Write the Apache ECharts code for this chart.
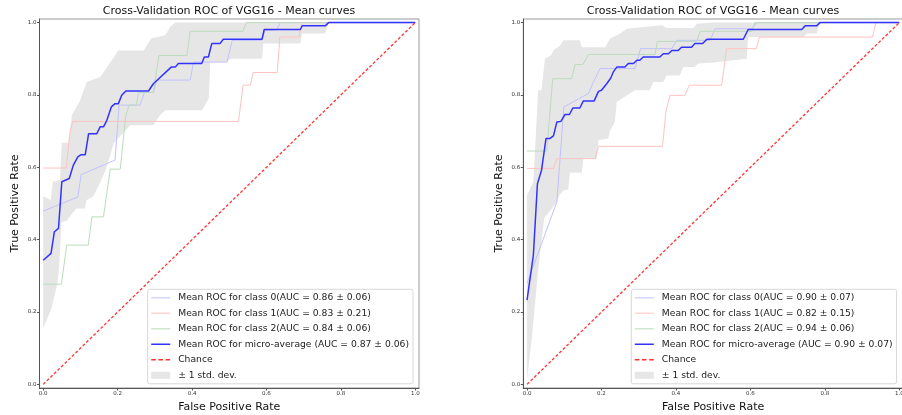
<!DOCTYPE html>
<html>
<head>
<meta charset="utf-8">
<script src="https://cdn.jsdelivr.net/npm/echarts@6/dist/echarts.min.js"></script>
<style>
  html, body { margin: 0; padding: 0; background: #fff; }
  #chart { width: 902px; height: 415px; }
</style>
</head>
<body>
<div id="chart"></div>
<script>
// ticks and labels
const ticks = [0, 0.2, 0.4, 0.6, 0.8, 1.0];
const titleText = 'Cross-Validation ROC of VGG16 - Mean curves';
const xName = 'False Positive Rate';
const yName = 'True Positive Rate';
const chanceName = 'Chance';
const bandName = '\u00b1 1 std. dev.';
const namesLeft = [
  'Mean ROC for class 0(AUC = 0.86 \u00b1 0.06)',
  'Mean ROC for class 1(AUC = 0.83 \u00b1 0.21)',
  'Mean ROC for class 2(AUC = 0.84 \u00b1 0.06)',
  'Mean ROC for micro-average (AUC = 0.87 \u00b1 0.06)'
];
const namesRight = [
  'Mean ROC for class 0(AUC = 0.90 \u00b1 0.07)',
  'Mean ROC for class 1(AUC = 0.82 \u00b1 0.15)',
  'Mean ROC for class 2(AUC = 0.94 \u00b1 0.06)',
  'Mean ROC for micro-average (AUC = 0.90 \u00b1 0.07)'
];
const chance = [[0, 0], [1, 1]];

// left chart, [fpr, tpr]
const leftClass0 = [[0,0.479],[0.093,0.518],[0.102,0.58],[0.193,0.62],[0.204,0.772],[0.26,0.772],[0.272,0.807],[0.296,0.807],[0.305,0.841],[0.395,0.841],[0.404,0.891],[0.494,0.891],[0.508,0.951],[0.588,0.951],[0.596,0.978],[0.628,0.98],[0.637,1],[1,1]];
const leftClass1 = [[0,0.598],[0.062,0.598],[0.071,0.69],[0.079,0.727],[0.525,0.727],[0.537,0.827],[0.557,0.827],[0.564,0.862],[0.629,0.862],[0.636,0.96],[0.687,0.96],[0.696,1],[1,1]];
const leftClass2 = [[0,0.277],[0.049,0.277],[0.063,0.385],[0.121,0.385],[0.131,0.463],[0.162,0.463],[0.18,0.595],[0.207,0.595],[0.222,0.744],[0.231,0.772],[0.25,0.772],[0.256,0.807],[0.296,0.807],[0.311,0.909],[0.386,0.909],[0.395,0.976],[0.537,0.976],[0.546,1],[1,1]];
const leftMicro = [[0,0.343],[0.021,0.362],[0.03,0.422],[0.041,0.431],[0.05,0.56],[0.07,0.569],[0.081,0.606],[0.093,0.629],[0.102,0.635],[0.113,0.635],[0.122,0.693],[0.144,0.693],[0.153,0.712],[0.162,0.712],[0.171,0.73],[0.183,0.767],[0.193,0.776],[0.202,0.776],[0.211,0.799],[0.222,0.811],[0.283,0.811],[0.296,0.831],[0.344,0.877],[0.355,0.877],[0.363,0.887],[0.426,0.887],[0.433,0.905],[0.444,0.905],[0.453,0.942],[0.475,0.942],[0.484,0.954],[0.588,0.954],[0.594,0.981],[0.691,0.981],[0.696,0.991],[0.758,0.991],[0.767,1],[1,1]];
const leftUpper = [[0,0.52],[0.02,0.51],[0.026,0.56],[0.045,0.565],[0.05,0.668],[0.068,0.668],[0.077,0.744],[0.099,0.785],[0.117,0.836],[0.153,0.85],[0.175,0.882],[0.202,0.923],[0.27,0.923],[0.29,0.956],[0.328,0.965],[0.341,0.988],[0.355,1],[0.767,1]];
const leftLower = [[0,0.155],[0.022,0.21],[0.038,0.279],[0.043,0.325],[0.049,0.449],[0.063,0.452],[0.076,0.47],[0.089,0.486],[0.112,0.486],[0.116,0.509],[0.135,0.52],[0.149,0.55],[0.166,0.587],[0.18,0.633],[0.189,0.666],[0.21,0.69],[0.234,0.716],[0.296,0.716],[0.314,0.744],[0.328,0.758],[0.426,0.758],[0.435,0.772],[0.445,0.79],[0.449,0.891],[0.494,0.891],[0.503,0.9],[0.588,0.9],[0.592,0.942],[0.691,0.942],[0.696,0.97],[0.758,0.97],[0.767,1]];

// right chart
const rightClass0 = [[0,0.279],[0.08,0.504],[0.087,0.6],[0.099,0.767],[0.165,0.804],[0.176,0.831],[0.196,0.873],[0.29,0.873],[0.305,0.928],[0.389,0.928],[0.402,0.951],[0.492,0.951],[0.505,0.983],[0.604,0.983],[0.617,1],[1,1]];
const rightClass1 = [[0,0.597],[0.071,0.597],[0.08,0.624],[0.183,0.624],[0.192,0.658],[0.364,0.658],[0.373,0.753],[0.384,0.799],[0.424,0.799],[0.436,0.827],[0.523,0.827],[0.536,0.928],[0.616,0.928],[0.624,0.96],[0.928,0.96],[0.937,1],[1,1]];
const rightClass2 = [[0,0.645],[0.053,0.645],[0.069,0.845],[0.12,0.845],[0.129,0.884],[0.15,0.884],[0.165,0.912],[0.344,0.912],[0.35,0.948],[0.456,0.948],[0.465,0.976],[0.604,0.976],[0.612,1],[1,1]];
const rightMicro = [[0,0.233],[0.017,0.357],[0.028,0.555],[0.039,0.592],[0.051,0.68],[0.062,0.68],[0.071,0.687],[0.08,0.725],[0.091,0.727],[0.102,0.746],[0.114,0.746],[0.123,0.764],[0.142,0.764],[0.151,0.783],[0.18,0.783],[0.192,0.81],[0.2,0.813],[0.214,0.831],[0.225,0.847],[0.232,0.864],[0.241,0.877],[0.263,0.877],[0.272,0.887],[0.286,0.887],[0.295,0.896],[0.303,0.896],[0.312,0.905],[0.357,0.905],[0.366,0.914],[0.38,0.914],[0.389,0.923],[0.406,0.923],[0.415,0.932],[0.442,0.932],[0.451,0.942],[0.472,0.942],[0.483,0.954],[0.581,0.954],[0.594,0.981],[0.738,0.981],[0.747,0.991],[0.778,0.991],[0.787,1],[1,1]];
const rightUpper = [[0,0.523],[0.017,0.56],[0.03,0.813],[0.039,0.813],[0.048,0.9],[0.065,0.91],[0.071,0.923],[0.089,0.937],[0.098,0.951],[0.142,0.951],[0.147,0.932],[0.21,0.932],[0.223,0.956],[0.25,0.97],[0.268,0.983],[0.362,0.993],[0.375,0.985],[0.447,0.985],[0.456,0.997],[0.5,1],[0.787,1]];
const rightLower = [[0,0.012],[0.013,0.131],[0.03,0.316],[0.046,0.459],[0.08,0.504],[0.087,0.523],[0.098,0.536],[0.111,0.539],[0.115,0.585],[0.147,0.585],[0.151,0.624],[0.187,0.624],[0.192,0.675],[0.218,0.68],[0.223,0.702],[0.236,0.725],[0.241,0.781],[0.29,0.813],[0.33,0.813],[0.339,0.836],[0.366,0.836],[0.375,0.854],[0.41,0.854],[0.42,0.877],[0.45,0.877],[0.46,0.887],[0.5,0.89],[0.59,0.9],[0.594,0.96],[0.742,0.96],[0.751,0.97],[0.778,0.97],[0.787,1]];

const font = 'DejaVu Sans';
const classColors = ['#c2c2ff', '#ffc2c2', '#bcdcbc'];
const microColor = '#3333ff';
const chanceColor = '#ff3333';
const bandColor = '#e6e6e6';

// legend samples: a bar (with invisible corner points so the box stays 19x7) and a dashed bar
const lineIcon = (h) => 'path://M0,0L0.01,0L0,0.01ZM19,7L18.99,7L19,6.99ZM0,' + (3.5 - h / 2) + 'L19,' + (3.5 - h / 2) + 'L19,' + (3.5 + h / 2) + 'L0,' + (3.5 + h / 2) + 'Z';
const dashIcon = 'path://M0,0L0.01,0L0,0.01ZM19,7L18.99,7L19,6.99Z' +
  'M0,2.8L4.6,2.8L4.6,4.2L0,4.2Z M7.2,2.8L11.8,2.8L11.8,4.2L7.2,4.2Z M14.4,2.8L19,2.8L19,4.2L14.4,4.2Z';

let chart = echarts.init(document.getElementById('chart'), null, { renderer: 'canvas' });

let makeAxes = (idx) => {
  const axisCommon = {
    type: 'value',
    min: -0.01,
    max: 1.01,
    gridIndex: idx,
    splitLine: { show: false },
    axisLine: { show: true, onZero: false, lineStyle: { color: '#555', width: 1 } },
    axisTick: { show: true, length: 2.5, customValues: ticks, lineStyle: { color: '#555' } },
    axisLabel: {
      customValues: ticks,
      fontFamily: font, fontSize: 5.5, color: '#333', margin: 3,
      formatter: (v) => v.toFixed(1)
    },
    nameLocation: 'middle',
    nameTextStyle: { fontFamily: font, fontSize: 11, color: '#111' }
  };
  return {
    x: Object.assign({}, axisCommon, { name: xName, nameGap: 14 }),
    y: Object.assign({}, axisCommon, { name: yName, nameGap: 19 })
  };
};

let bandSeries = (idx, upper, lower) => {
  const pts = upper.concat(lower.slice().reverse());
  return {
    type: 'custom',
    name: bandName,
    xAxisIndex: idx, yAxisIndex: idx,
    itemStyle: { color: bandColor },
    data: pts,
    encode: { x: 0, y: 1 },
    z: 1,
    renderItem: (params, api) => {
      if (params.dataIndex !== 0) return null;
      return {
        type: 'polygon',
        shape: { points: pts.map((p) => api.coord(p)) },
        style: { fill: bandColor }
      };
    }
  };
};

let lineSeries = (idx, name, data, color, width, extra) => Object.assign({
  type: 'line',
  name: name,
  xAxisIndex: idx, yAxisIndex: idx,
  data: data,
  showSymbol: false,
  symbol: 'none',
  z: 2,
  itemStyle: { color: color },
  lineStyle: { color: color, width: width }
}, extra || {});

let chartSeries = (idx, names, c0, c1, c2, micro, upper, lower) => [
  bandSeries(idx, upper, lower),
  lineSeries(idx, names[0], c0, classColors[0], 1),
  lineSeries(idx, names[1], c1, classColors[1], 1),
  lineSeries(idx, names[2], c2, classColors[2], 1),
  lineSeries(idx, names[3], micro, microColor, 1.5, { z: 3 }),
  lineSeries(idx, chanceName, chance, chanceColor, 1.3, {
    z: 4, lineStyle: { color: chanceColor, width: 1.3, type: [3, 2] }
  })
];

let makeLegend = (left, names) => ({
  orient: 'vertical',
  left: left,
  top: 289.3,
  itemWidth: 19,
  itemHeight: 7,
  itemGap: 6.5,
  padding: [4, 4, 4, 3.5],
  borderColor: '#d8d8d8',
  borderWidth: 1,
  borderRadius: 2,
  backgroundColor: 'rgba(255,255,255,0.8)',
  selectedMode: false,
  textStyle: { fontFamily: font, fontSize: 9.2, lineHeight: 9, color: '#222', padding: [0, 0, 0, 3] },
  data: [
    { name: names[0], icon: lineIcon(1.4), itemStyle: { color: '#d6d6ff' } },
    { name: names[1], icon: lineIcon(1.4), itemStyle: { color: '#ffd6d6' } },
    { name: names[2], icon: lineIcon(1.4), itemStyle: { color: '#cfe6cf' } },
    { name: names[3], icon: lineIcon(1.5), itemStyle: { color: microColor } },
    { name: chanceName, icon: dashIcon, itemStyle: { color: chanceColor } },
    { name: bandName, icon: 'rect', itemStyle: { color: bandColor } }
  ]
});

const axL = makeAxes(0);
const axR = makeAxes(1);
const titleStyle = { fontFamily: font, fontSize: 11, fontWeight: 'normal', color: '#111' };

chart.setOption({
  animation: false,
  backgroundColor: '#fff',
  title: [
    { text: titleText, left: 229, top: 6, textAlign: 'center', padding: 0, textStyle: titleStyle },
    { text: titleText, left: 713, top: 6, textAlign: 'center', padding: 0, textStyle: titleStyle }
  ],
  grid: [
    { left: 39.5, top: 19, width: 379.5, height: 369, show: true, borderColor: '#999', borderWidth: 1,
      outerBoundsMode: 'none', containLabel: false },
    { left: 523.3, top: 19, width: 379.7, height: 369, show: true, borderColor: '#999', borderWidth: 1,
      outerBoundsMode: 'none', containLabel: false }
  ],
  xAxis: [axL.x, axR.x],
  yAxis: [axL.y, axR.y],
  legend: [makeLegend(147.7, namesLeft), makeLegend(631.3, namesRight)],
  series: chartSeries(0, namesLeft, leftClass0, leftClass1, leftClass2, leftMicro, leftUpper, leftLower)
    .concat(chartSeries(1, namesRight, rightClass0, rightClass1, rightClass2, rightMicro, rightUpper, rightLower))
});
</script>
</body>
</html>
